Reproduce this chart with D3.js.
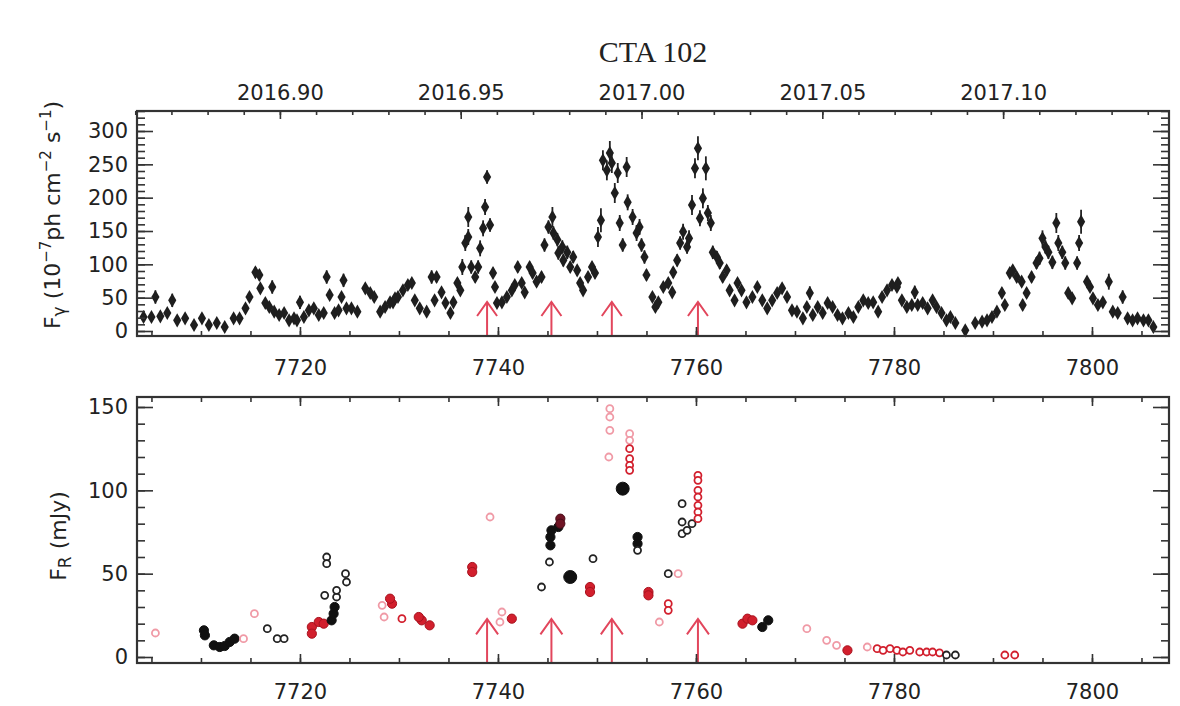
<!DOCTYPE html>
<html><head><meta charset="utf-8">
<script src="https://cdn.jsdelivr.net/npm/d3@7"></script>
<style>
body{margin:0;background:#fff}
text{font-family:"DejaVu Sans",sans-serif;fill:#222}
</style>
</head><body>
<svg id="c" width="1180" height="706"></svg>
<script>
// ---------------- DATA ----------------
const title = "CTA 102";
const dayTicks = [7720, 7740, 7760, 7780, 7800];
const yearTicks = ["2016.90", "2016.95", "2017.00", "2017.05", "2017.10"];
const gammaTicks = [0, 50, 100, 150, 200, 250, 300];
const optTicks = [0, 50, 100, 150];
const flareDays = [7738.9, 7745.4, 7751.5, 7760.2];

// gamma-ray light curve: [JD-2450000, flux (1e-7 ph cm^-2 s^-1), error]
const gammaData = [
[7704.2,21,4],[7705.0,21,4],[7705.4,51,10],[7705.9,22,4],[7706.6,27,4],[7707.1,46,10],[7707.6,16,4],[7708.4,19,4],
[7709.3,9,4],[7710.1,19,4],[7710.8,9,4],[7711.6,12,4],[7712.4,6,4],[7713.3,19,4],[7713.9,19,4],[7714.5,34,5],
[7714.9,51,6],[7715.5,88,8],[7715.9,84,8],[7716.0,64,6],[7716.5,42,5],[7716.9,36,5],[7717.2,66,10],[7717.4,29,4],
[7717.9,24,4],[7718.4,27,4],[7718.9,16,4],[7719.4,19,4],[7719.7,16,4],[7720.0,43,10],[7720.4,21,4],[7720.9,31,4],
[7721.4,34,5],[7721.9,24,4],[7722.4,27,4],[7722.7,81,10],[7723.0,54,6],[7723.5,27,4],[7723.9,31,4],[7724.2,51,6],
[7724.4,76,10],[7724.7,34,5],[7725.2,34,5],[7725.8,29,4],[7726.6,64,6],[7727.1,57,6],[7727.5,51,6],[7728.1,29,4],
[7728.6,36,5],[7729.1,43,5],[7729.4,43,5],[7729.6,49,5],[7729.9,51,5],
[7730.4,61,6],[7730.9,69,6],[7731.3,72,6],[7731.6,46,5],[7732.1,34,5],[7732.8,29,5],[7733.3,81,10],[7733.6,46,5],
[7733.8,81,8],[7734.3,58,6],[7734.7,42,5],[7735.2,27,5],[7735.5,43,5],[7735.9,72,7],[7736.2,61,6],[7736.4,96,12],
[7736.7,132,12],[7737.0,141,12],[7737.0,171,15],[7737.3,96,10],[7737.7,81,8],[7738.0,96,10],[7738.2,124,12],[7738.5,154,12],
[7738.7,186,12],[7738.9,231,10],[7739.2,159,10],[7739.5,87,8],[7739.7,66,6],[7739.9,42,5],[7740.4,43,5],[7740.9,51,5],
[7741.4,61,6],[7741.7,69,6],[7742.0,96,8],[7742.4,72,6],[7742.7,58,6],[7743.2,96,8],[7743.5,87,8],[7743.9,74,7],
[7744.4,81,8],[7744.7,129,10],[7745.1,156,10],[7745.5,171,15],[7745.6,147,10],[7746.0,137,10],[7746.1,117,10],[7746.5,126,10],
[7746.6,106,9],[7747.0,118,10],[7747.3,96,8],[7747.6,111,9],[7748.0,91,8],[7748.3,72,7],[7748.6,61,6],[7749.1,81,8],
[7749.5,96,8],[7749.8,87,8],[7750.1,141,15],[7750.4,166,18],[7750.6,256,15],[7751.0,241,15],[7751.3,267,18],[7751.5,252,15],
[7751.8,207,15],[7752.1,237,15],[7752.3,162,12],[7752.6,129,10],[7753.0,246,15],[7753.1,193,12],[7753.6,171,12],[7754.0,147,12],
[7754.3,156,12],[7754.5,129,10],[7754.8,111,10],[7755.0,84,8],
[7755.6,51,6],[7755.9,36,5],[7756.2,43,5],[7756.7,66,6],[7757.2,72,7],[7757.6,58,6],[7757.7,88,8],[7758.1,106,9],
[7758.4,132,10],[7758.7,149,12],[7759.1,126,10],[7759.3,139,12],[7759.6,189,15],[7759.9,244,15],[7760.2,274,18],[7760.4,169,12],
[7760.7,199,15],[7761.0,244,18],[7761.2,177,12],[7761.5,162,12],[7761.7,118,10],[7762.1,111,9],[7762.4,102,9],[7762.7,81,8],
[7763.1,91,8],[7763.4,61,6],[7763.9,46,5],[7764.2,72,7],[7764.6,61,6],[7765.1,43,5],[7765.7,51,6],[7766.2,66,6],
[7766.7,46,5],[7767.2,34,5],[7767.7,46,5],[7768.2,57,6],[7768.7,64,6],[7769.2,51,6],[7769.7,31,5],[7770.2,29,5],
[7770.8,19,4],[7771.2,36,5],[7771.5,57,10],[7771.8,24,4],[7772.3,36,5],[7772.8,27,4],[7773.3,42,5],[7773.8,36,5],
[7774.3,24,4],[7774.8,19,4],[7775.4,27,4],[7775.9,21,4],[7776.4,36,5],[7776.9,46,5],[7777.4,42,5],[7777.9,43,5],
[7778.4,29,4],[7778.8,51,6],[7779.3,61,6],[7779.8,69,6],[7780.3,66,6],
[7780.4,72,6],[7780.8,46,5],[7781.3,36,5],[7781.8,39,5],[7782.1,58,10],[7782.4,39,5],[7782.9,42,5],[7783.4,34,5],
[7783.9,46,5],[7784.3,36,5],[7784.8,27,4],[7785.3,16,4],[7785.7,21,4],[7786.2,12,4],[7787.2,1,4],[7788.2,12,4],
[7788.9,14,4],[7789.4,16,4],[7789.9,21,4],[7790.4,29,5],[7790.9,57,8],[7791.2,39,5],[7791.7,87,8],[7792.0,91,8],
[7792.4,81,8],[7792.9,74,7],[7793.0,39,8],[7793.4,57,7],[7793.9,81,8],[7794.4,102,9],[7794.7,109,10],[7795.0,139,12],
[7795.3,126,10],[7795.6,118,10],[7796.0,103,10],[7796.4,162,15],[7796.6,132,12],[7797.0,118,10],[7797.3,102,10],[7797.6,57,8],
[7798.0,49,6],[7798.5,102,10],[7798.7,132,12],[7798.9,164,18],[7799.5,74,8],[7799.8,66,7],[7800.1,49,6],[7800.6,39,5],
[7801.1,43,5],[7801.7,74,12],[7802.1,29,5],[7802.6,27,5],[7803.1,51,10],[7803.6,19,4],[7804.1,16,4],[7804.6,19,4],
[7805.2,16,4],[7805.7,16,4],[7806.2,6,4]
];

// optical R-band: [JD-2450000, flux (mJy), observatory group]
const optData = [
[7705.4,14.4,"pink"],[7710.3,16,"blackF"],[7710.4,13,"blackF"],[7711.3,7,"blackF"],[7711.9,6,"blackF"],[7712.4,6.6,"blackF"],
[7712.9,9,"blackF"],[7713.4,11,"blackF"],[7714.3,11,"pink"],[7715.4,26,"pink"],[7716.7,17,"blackO"],[7717.7,11,"blackO"],
[7718.4,11,"blackO"],[7721.2,18,"redF"],[7721.2,14,"redF"],[7721.9,21,"redF"],[7722.4,20,"redF"],[7723.2,22,"blackF"],
[7723.4,26,"blackF"],[7723.5,30,"blackF"],[7722.5,37,"blackO"],[7723.7,36,"blackO"],[7723.7,40,"blackO"],[7722.7,60,"blackO"],
[7722.7,56,"blackO"],[7724.6,50,"blackO"],[7724.7,45,"blackO"],[7729.3,32,"redF"],[7729.1,35,"redF"],[7728.3,31,"pink"],
[7728.5,24,"pink"],[7730.3,23,"redO"],[7732.3,22,"redF"],[7733.1,19,"redF"],[7732.0,24,"redF"],[7737.4,54,"redF"],
[7737.4,51,"redF"],[7739.2,84,"pink"],[7740.4,27,"pink"],[7740.2,21,"pink"],[7741.4,23,"redF"],[7744.4,42,"blackO"],
[7745.2,57,"blackO"],[7745.3,67,"blackF"],[7745.3,72,"blackF"],[7745.4,76,"blackF"],[7746.1,78,"blackF"],[7746.3,83,"darkRed"],
[7746.3,80,"darkRed"],[7747.3,48,"blackBig"],[7749.6,59,"blackO"],[7749.3,42,"redF"],[7749.3,39,"redF"],[7751.3,149,"pink"],
[7751.3,144,"pink"],[7751.3,136,"pink"],[7751.2,120,"pink"],[7752.6,101,"blackBig"],[7753.3,134,"pink"],[7753.3,130,"pink"],
[7753.3,125,"redO"],[7753.3,119,"redO"],[7753.3,115,"redO"],[7753.3,112,"redO"],[7754.1,72,"blackF"],[7754.1,68,"blackF"],
[7754.1,64,"blackO"],[7755.2,39,"redF"],[7755.2,37,"redF"],[7756.3,21,"pink"],[7757.2,50,"blackO"],[7758.2,50,"pink"],
[7757.2,32,"redO"],[7757.2,28,"redO"],[7758.6,92,"blackO"],[7758.6,81,"blackO"],[7758.6,74,"blackO"],[7759.1,76,"blackO"],
[7759.6,80,"blackO"],[7760.2,109,"redO"],[7760.2,106,"redO"],[7760.2,100,"redO"],[7760.2,96,"redO"],[7760.2,91,"redO"],
[7760.2,87,"redO"],[7760.2,83,"redO"],[7764.7,20,"redF"],[7765.2,23,"redF"],[7765.7,22,"redF"],[7766.7,18,"blackF"],
[7767.3,22,"blackF"],[7771.2,17,"pink"],[7773.2,10,"pink"],[7774.2,7,"pink"],[7775.3,4,"redF"],[7777.3,6,"pink"],
[7778.3,5,"redO"],[7778.9,4,"redO"],[7779.6,5,"redO"],[7780.3,4,"redO"],[7780.9,3,"redO"],[7781.6,4,"redO"],
[7782.6,3,"redO"],[7783.3,3,"redO"],[7783.9,3,"redO"],[7784.6,2.5,"redO"],[7785.3,1.2,"blackO"],[7786.2,1.2,"blackO"],
[7791.2,1.2,"redO"],[7792.2,1.2,"redO"]
];

// ---------------- STYLES / LAYOUT ----------------
const markerStyle = {
  blackF:  {r:4.6, fill:"#111", stroke:"#111", sw:1},
  blackBig:{r:6.5, fill:"#111", stroke:"#111", sw:1},
  blackO:  {r:3.5, fill:"#fff", stroke:"#222", sw:1.8},
  redF:    {r:4.6, fill:"#d21f2d", stroke:"#a8121e", sw:1},
  darkRed: {r:4.6, fill:"#6e1424", stroke:"#4a0c18", sw:1},
  redO:    {r:3.5, fill:"#fff", stroke:"#d21f2d", sw:1.8},
  pink:    {r:3.5, fill:"#fff", stroke:"#f09aa6", sw:1.8}
};
const L = 137, R = 1169;
const top1 = 111, bot1 = 336, top2 = 397, bot2 = 663;
const arrowColor = "#e2465c";

const svg = d3.select("#c");
const x = d3.scaleLinear().domain([7703.54, 7807.78]).range([L, R]);
const yG = d3.scaleLinear().domain([-7.5, 330]).range([bot1, top1]);
const yO = d3.scaleLinear().domain([-3.6, 156]).range([bot2, top2]);
const dayToYear = d => 2017 + (d - 7754.5) / 365.25;
const xYear = d3.scaleLinear().domain([dayToYear(7703.54), dayToYear(7807.78)]).range([L, R]);

function range(a, b, s){ const o=[]; for(let v=a; v<=b+1e-9; v+=s) o.push(+v.toFixed(4)); return o; }

function frame(yScale, top, bot, yMajor, yMinorStep, xLabelPad, yearAxis){
  const g = svg.append("g");
  const fs = "21px";
  const yd = yScale.domain();
  const yMinor = range(Math.ceil(yd[0]/yMinorStep)*yMinorStep, yd[1], yMinorStep);
  g.append("g").attr("transform",`translate(${L},0)`)
    .call(d3.axisLeft(yScale).tickValues(yMinor).tickSize(-8).tickFormat(""));
  g.append("g").attr("transform",`translate(${L},0)`)
    .call(d3.axisLeft(yScale).tickValues(yMajor).tickSize(-16).tickPadding(9))
    .selectAll("text").style("font-size",fs);
  g.append("g").attr("transform",`translate(${R},0)`)
    .call(d3.axisRight(yScale).tickValues(yMinor).tickSize(-8).tickFormat(""));
  g.append("g").attr("transform",`translate(${R},0)`)
    .call(d3.axisRight(yScale).tickValues(yMajor).tickSize(-16).tickFormat(""));
  const xd = x.domain();
  const xMinor = range(Math.ceil(xd[0]/5)*5, xd[1], 5);
  g.append("g").attr("transform",`translate(0,${bot})`)
    .call(d3.axisBottom(x).tickValues(xMinor).tickSize(-5).tickFormat(""));
  g.append("g").attr("transform",`translate(0,${bot})`)
    .call(d3.axisBottom(x).tickValues(dayTicks).tickSize(-9).tickPadding(xLabelPad).tickFormat(d3.format("d")))
    .selectAll("text").style("font-size",fs);
  if (yearAxis){
    const yrs = yearTicks.map(Number);
    const yrMinor = range(2016.86, 2017.14, 0.01);
    g.append("g").attr("transform",`translate(0,${top})`)
      .call(d3.axisTop(xYear).tickValues(yrMinor).tickSize(-4).tickFormat(""));
    g.append("g").attr("transform",`translate(0,${top})`)
      .call(d3.axisTop(xYear).tickValues(yrs).tickSize(-8).tickPadding(11).tickFormat(d3.format(".2f")))
      .selectAll("text").style("font-size",fs);
  } else {
    g.append("g").attr("transform",`translate(0,${top})`)
      .call(d3.axisTop(x).tickValues(xMinor).tickSize(-5).tickFormat(""));
    g.append("g").attr("transform",`translate(0,${top})`)
      .call(d3.axisTop(x).tickValues(dayTicks).tickSize(-9).tickFormat(""));
  }
  g.selectAll(".domain").remove();
  g.selectAll(".tick line").attr("stroke","#333").attr("stroke-width",1.6);
  g.append("rect").attr("x",L).attr("y",top).attr("width",R-L).attr("height",bot-top)
    .attr("fill","none").attr("stroke","#333").attr("stroke-width",2.2);
  return g;
}

function arrows(top, bot, len, head){
  const g = svg.append("g").attr("stroke",arrowColor).attr("stroke-width",2).attr("fill","none");
  flareDays.forEach(d => {
    const px = x(d), tip = bot - len;
    g.append("line").attr("x1",px).attr("x2",px).attr("y1",bot).attr("y2",tip);
    g.append("polyline").attr("points",`${px-head},${tip+head*1.4} ${px},${tip} ${px+head},${tip+head*1.4}`);
  });
}

// ---------------- TOP PANEL ----------------
arrows(top1, bot1, 34, 10);
const gp = svg.append("g");
gp.selectAll("line.err").data(gammaData).join("line")
  .attr("x1",d=>x(d[0])).attr("x2",d=>x(d[0]))
  .attr("y1",d=>yG(d[1]-d[2])).attr("y2",d=>yG(d[1]+d[2]))
  .attr("stroke","#222").attr("stroke-width",1.8);
gp.selectAll("path.pt").data(gammaData).join("path")
  .attr("d", d3.symbol().type(d3.symbolDiamond).size(58))
  .attr("transform",d=>`translate(${x(d[0])},${yG(d[1])})`)
  .attr("fill","#1e1e1e");
frame(yG, top1, bot1, gammaTicks, 10, 24, true);

// ---------------- BOTTOM PANEL ----------------
arrows(top2, bot2, 44, 11);
const op = svg.append("g");
op.selectAll("circle").data(optData).join("circle")
  .attr("cx",d=>x(d[0])).attr("cy",d=>yO(d[1]))
  .attr("r",d=>markerStyle[d[2]].r)
  .attr("fill",d=>markerStyle[d[2]].fill)
  .attr("stroke",d=>markerStyle[d[2]].stroke)
  .attr("stroke-width",d=>markerStyle[d[2]].sw);
frame(yO, top2, bot2, optTicks, 10, 21, false);

// ---------------- TEXT ----------------
svg.append("text").attr("x",653).attr("y",62).attr("text-anchor","middle")
  .style("font-family","'Liberation Serif',serif").style("font-size","30px").text(title);

const yl1 = svg.append("text").attr("transform","translate(60,215) rotate(-90)")
  .attr("text-anchor","middle").style("font-size","22px");
yl1.append("tspan").text("F");
yl1.append("tspan").attr("baseline-shift","-30%").style("font-size","17px").text("γ");
yl1.append("tspan").text(" (10");
yl1.append("tspan").attr("baseline-shift","super").style("font-size","15px").text("−7");
yl1.append("tspan").text("ph cm");
yl1.append("tspan").attr("baseline-shift","super").style("font-size","15px").text("−2");
yl1.append("tspan").text(" s");
yl1.append("tspan").attr("baseline-shift","super").style("font-size","15px").text("−1");
yl1.append("tspan").text(")");

const yl2 = svg.append("text").attr("transform","translate(66,536) rotate(-90)")
  .attr("text-anchor","middle").style("font-size","22px");
yl2.append("tspan").text("F");
yl2.append("tspan").attr("baseline-shift","-30%").style("font-size","17px").text("R");
yl2.append("tspan").text(" (mJy)");
</script>
</body></html>
